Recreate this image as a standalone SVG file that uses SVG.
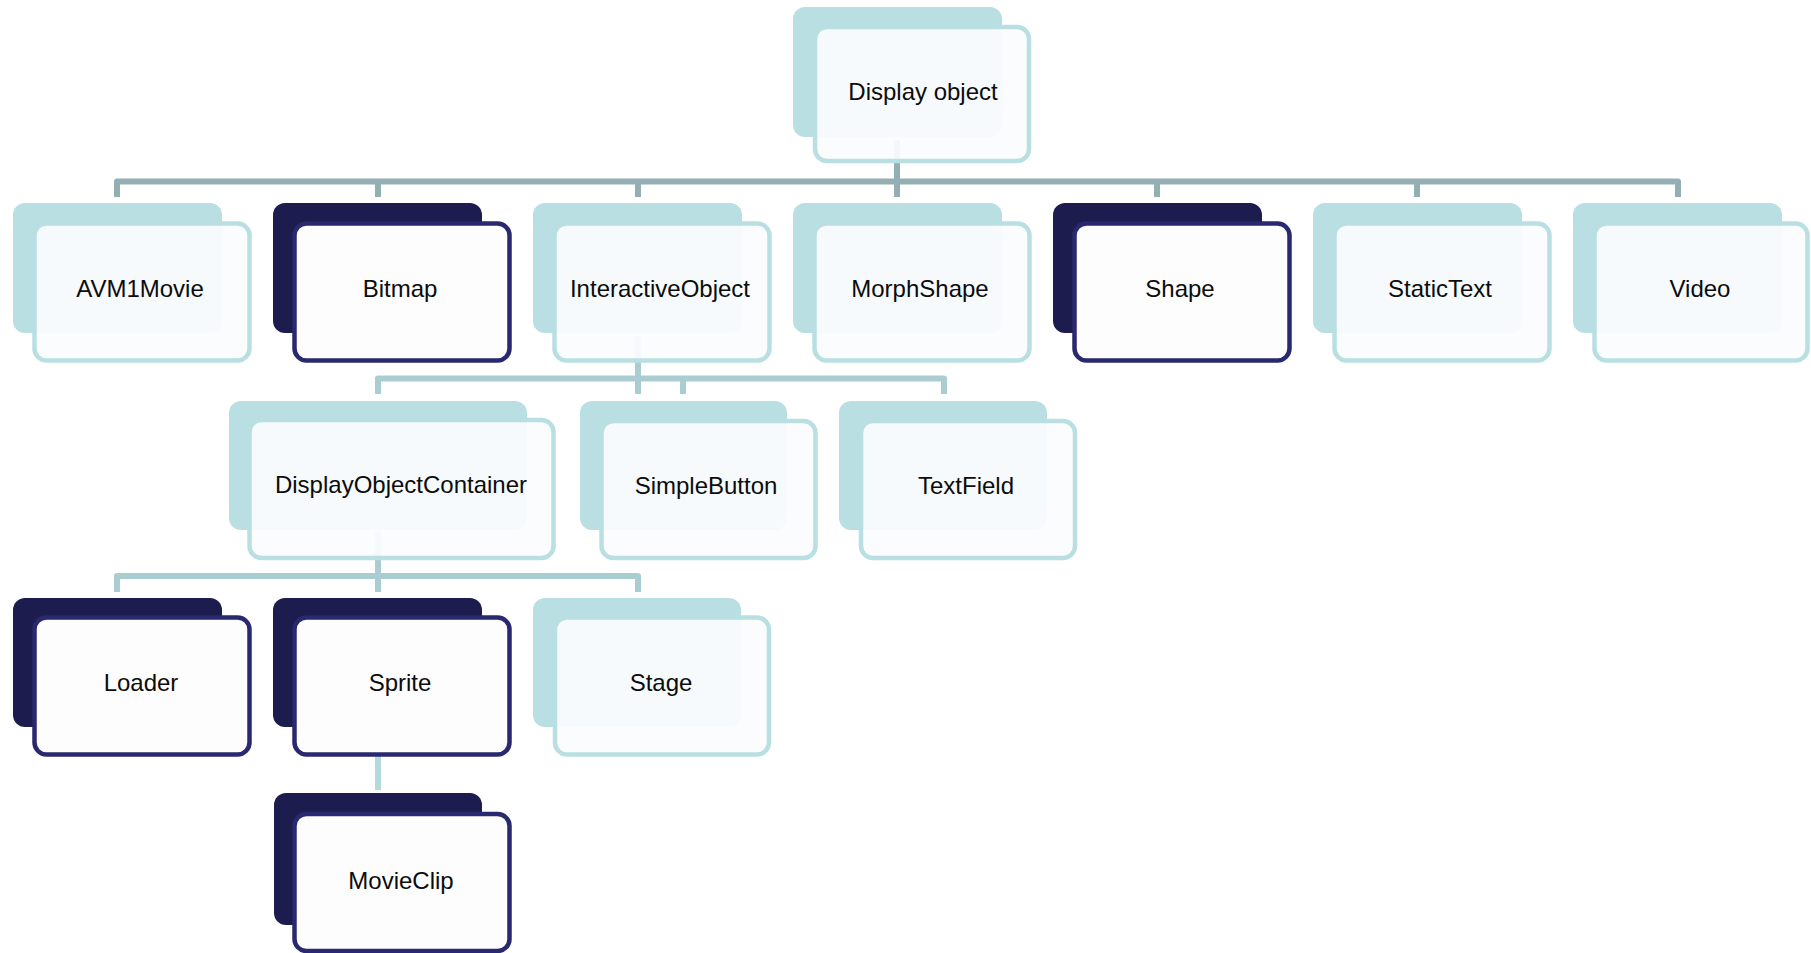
<svg xmlns="http://www.w3.org/2000/svg" width="1811" height="953" viewBox="0 0 1811 953">
<style>
.bg{fill:#ffffff}
.c{fill:none;stroke-width:6;stroke-linejoin:round;stroke-linecap:butt}
.c1{stroke:#94afb3}
.c2{stroke:#a9cdd0}
.c3{stroke:#b3dadd}
.light .back{fill:#b9dfe2}
.light .front{fill:#fafcfd;fill-opacity:0.94;stroke:#b9dfe2;stroke-width:4.5}
.dark .back{fill:#1c1c4f}
.dark .front{fill:#fdfdfd;stroke:#29296f;stroke-width:4.5}
text{font-family:"Liberation Sans",Arial,sans-serif;font-size:24px;fill:#0c0c0c;text-anchor:middle}
</style>
<rect class="bg" x="0" y="0" width="1811" height="953"/>
<g id="connectors">
<path class="c c1" d="M897,140 V197"/>
<path class="c c1" d="M117,197 V181.5 H1678 V197"/>
<path class="c c1" d="M378,181.5 V197 M638,181.5 V197 M1157,181.5 V197 M1417,181.5 V197"/>
<path class="c c2" d="M638,336 V394"/>
<path class="c c2" d="M378,394 V378.5 H944 V394 M683,378.5 V394"/>
<path class="c c2" d="M378,532 V592"/>
<path class="c c2" d="M117,592 V576 H638 V592"/>
<path class="c c3" d="M378,728 V790"/>
</g>
<g id="n-display-object" class="light">
<rect class="back" x="793" y="7" width="209" height="130" rx="12"/>
<rect class="front" x="815" y="27" width="214" height="134" rx="12"/>
<text x="923" y="100">Display object</text>
</g>
<g id="n-avm1movie" class="light">
<rect class="back" x="13" y="203" width="209" height="130" rx="12"/>
<rect class="front" x="34.5" y="223.5" width="215" height="137" rx="12"/>
<text x="140" y="297">AVM1Movie</text>
</g>
<g id="n-bitmap" class="dark">
<rect class="back" x="273" y="203" width="209" height="130" rx="12"/>
<rect class="front" x="294.5" y="223.5" width="215" height="137" rx="12"/>
<text x="400" y="297">Bitmap</text>
</g>
<g id="n-interactiveobject" class="light">
<rect class="back" x="533" y="203" width="209" height="130" rx="12"/>
<rect class="front" x="554.5" y="223.5" width="215" height="137" rx="12"/>
<text x="660" y="297">InteractiveObject</text>
</g>
<g id="n-morphshape" class="light">
<rect class="back" x="793" y="203" width="209" height="130" rx="12"/>
<rect class="front" x="814.5" y="223.5" width="215" height="137" rx="12"/>
<text x="920" y="297">MorphShape</text>
</g>
<g id="n-shape" class="dark">
<rect class="back" x="1053" y="203" width="209" height="130" rx="12"/>
<rect class="front" x="1074.5" y="223.5" width="215" height="137" rx="12"/>
<text x="1180" y="297">Shape</text>
</g>
<g id="n-statictext" class="light">
<rect class="back" x="1313" y="203" width="209" height="130" rx="12"/>
<rect class="front" x="1334.5" y="223.5" width="215" height="137" rx="12"/>
<text x="1440" y="297">StaticText</text>
</g>
<g id="n-video" class="light">
<rect class="back" x="1573" y="203" width="209" height="130" rx="12"/>
<rect class="front" x="1594.5" y="223.5" width="213" height="137" rx="12"/>
<text x="1700" y="297">Video</text>
</g>
<g id="n-displayobjectcontainer" class="light">
<rect class="back" x="229" y="401" width="298" height="129" rx="12"/>
<rect class="front" x="249.5" y="420" width="304" height="138" rx="12"/>
<text x="401" y="493">DisplayObjectContainer</text>
</g>
<g id="n-simplebutton" class="light">
<rect class="back" x="580" y="401" width="207" height="129" rx="12"/>
<rect class="front" x="601.5" y="421" width="214" height="137" rx="12"/>
<text x="706" y="494">SimpleButton</text>
</g>
<g id="n-textfield" class="light">
<rect class="back" x="839" y="401" width="208" height="129" rx="12"/>
<rect class="front" x="861" y="421" width="214" height="137" rx="12"/>
<text x="966" y="494">TextField</text>
</g>
<g id="n-loader" class="dark">
<rect class="back" x="13" y="598" width="209" height="129" rx="12"/>
<rect class="front" x="34.5" y="617.5" width="215" height="137" rx="12"/>
<text x="141" y="691">Loader</text>
</g>
<g id="n-sprite" class="dark">
<rect class="back" x="273" y="598" width="209" height="129" rx="12"/>
<rect class="front" x="294.5" y="617.5" width="215" height="137" rx="12"/>
<text x="400" y="691">Sprite</text>
</g>
<g id="n-stage" class="light">
<rect class="back" x="533" y="598" width="208" height="129" rx="12"/>
<rect class="front" x="555" y="617.5" width="214" height="137" rx="12"/>
<text x="661" y="691">Stage</text>
</g>
<g id="n-movieclip" class="dark">
<rect class="back" x="274" y="793" width="208" height="132" rx="12"/>
<rect class="front" x="294.5" y="814" width="215" height="137" rx="12"/>
<text x="401" y="889">MovieClip</text>
</g>
</svg>
